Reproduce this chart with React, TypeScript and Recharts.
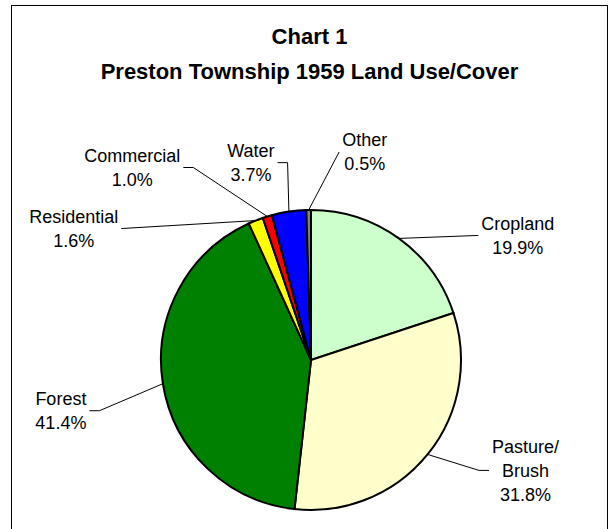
import React from 'react';
import { PieChart, Pie, Cell } from 'recharts';

// ---- data ----
const categories = ['Cropland', 'Pasture/\nBrush', 'Forest', 'Residential', 'Commercial', 'Water', 'Other'];
const shares = [19.9, 31.8, 41.4, 1.6, 1.0, 3.7, 0.5];
const sliceColors = ['#CCFFCC', '#FFFFCC', '#008000', '#FFFF00', '#FF0000', '#0000FF', '#808080'];
const titleLines = ['Chart 1', 'Preston Township 1959 Land Use/Cover'];

// ---- label layout (offset of label centre from the slice edge point, leader elbow) ----
const labelOffsets: [number, number][] = [
  [119, -3],
  [98, 16],
  [-102, 27],
  [-182, 8],
  [-135, -49],
  [-38, -49],
  [56, -58],
];
const elbowLens = [0, 10, 10, 0, 10, 10, 0];

const FONT = '"Liberation Sans", Arial, Helvetica, sans-serif';
const LABEL_SIZE = 18;
const LINE_H = 24;

const data = categories.map((name, i) => ({ name, value: shares[i] }));

let ctx: CanvasRenderingContext2D | null = null;
function textWidth(s: string): number {
  if (!ctx) {
    const c = document.createElement('canvas');
    ctx = c.getContext('2d');
  }
  if (ctx) {
    ctx.font = `${LABEL_SIZE}px ${FONT}`;
    return ctx.measureText(s).width;
  }
  return s.length * LABEL_SIZE * 0.55;
}

const renderLabel = (props: any) => {
  const { cx, cy, midAngle, outerRadius, index } = props;
  const rad = Math.PI / 180;
  const ex = cx + outerRadius * Math.cos(-midAngle * rad);
  const ey = cy + outerRadius * Math.sin(-midAngle * rad);
  const [dx, dy] = labelOffsets[index];
  const lx = ex + dx;
  const ly = ey + dy;
  const lines = [...categories[index].split('\n'), shares[index].toFixed(1) + '%'];
  const w = Math.max(...lines.map(textWidth));
  const right = dx > 0;
  const near = right ? lx - w / 2 - 3 : lx + w / 2 + 3;
  const elbow = right ? near - elbowLens[index] : near + elbowLens[index];
  const top = ly - ((lines.length - 1) * LINE_H) / 2;
  return (
    <g key={`lbl-${index}`}>
      <polyline
        points={`${ex},${ey} ${elbow},${ly} ${near},${ly}`}
        fill="none"
        stroke="#000"
        strokeWidth={1}
      />
      {lines.map((t, i) => (
        <text
          key={i}
          x={lx}
          y={top + i * LINE_H + LABEL_SIZE * 0.35}
          textAnchor="middle"
          fontSize={LABEL_SIZE}
          fontFamily={FONT}
          fill="#000"
        >
          {t}
        </text>
      ))}
    </g>
  );
};

export default function App() {
  return (
    <div style={{ position: 'absolute', left: 0, top: 0, width: 613, height: 529, overflow: 'hidden', background: '#fff' }}>
      <div
        style={{
          position: 'absolute',
          left: 11,
          top: 5,
          width: 597,
          height: 540,
          border: '1px solid #000',
          boxSizing: 'border-box',
        }}
      />
      {titleLines.map((t, i) => (
        <div
          key={i}
          style={{
            position: 'absolute',
            left: 11,
            width: 597,
            top: (i === 0 ? 37 : 72) - 11,
            height: 22,
            lineHeight: '22px',
            textAlign: 'center',
            fontFamily: FONT,
            fontWeight: 'bold',
            fontSize: 22,
            color: '#000',
          }}
        >
          {t}
        </div>
      ))}
      <div style={{ position: 'absolute', left: 0, top: 0 }}>
        <PieChart width={613} height={529}>
          <Pie
            data={data}
            dataKey="value"
            nameKey="name"
            cx={306}
            cy={355}
            outerRadius={150}
            startAngle={90}
            endAngle={-270}
            stroke="#000"
            strokeWidth={2}
            label={renderLabel}
            labelLine={false}
            isAnimationActive={false}
          >
            {data.map((d, i) => (
              <Cell key={d.name} fill={sliceColors[i]} stroke="#000" strokeWidth={2} />
            ))}
          </Pie>
        </PieChart>
      </div>
    </div>
  );
}
